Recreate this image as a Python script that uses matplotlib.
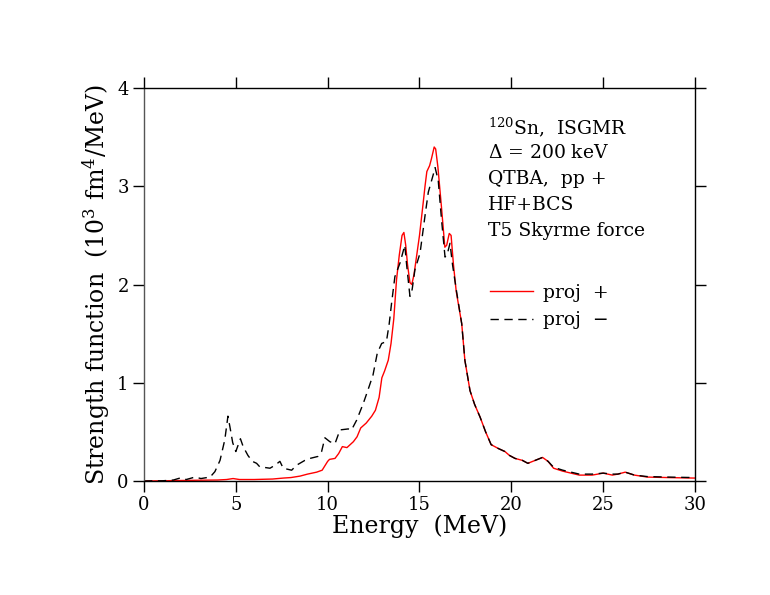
import matplotlib
matplotlib.use('Agg')
import matplotlib.pyplot as plt
import numpy as np

# strength function, 120Sn ISGMR, proj + (red)
e_plus = [0.0, 1.0, 2.0, 3.0, 4.0, 4.5, 4.85, 5.2, 6.0, 7.0, 7.6, 8.0, 8.5, 8.9,
          9.4, 9.7, 10.0, 10.1, 10.4, 10.6, 10.8, 11.05, 11.4, 11.6, 11.8, 12.1,
          12.4, 12.6, 12.8, 12.95, 13.1, 13.3, 13.45, 13.6, 13.75, 13.9, 14.05,
          14.15, 14.25, 14.35, 14.48, 14.58, 14.7, 14.85, 15.0, 15.2, 15.3, 15.4,
          15.55, 15.65, 15.8, 15.88, 16.0, 16.2, 16.38, 16.48, 16.62, 16.72, 16.85,
          17.0, 17.3, 17.47, 17.75, 18.0, 18.3, 18.6, 18.9, 19.3, 19.65, 19.9,
          20.2, 20.6, 20.9, 21.3, 21.7, 22.0, 22.3, 22.8, 23.7, 24.4, 25.0, 25.5,
          25.8, 26.2, 26.7, 27.4, 28.5, 29.9, 30.0]
s_plus = [0.0, 0.002, 0.005, 0.008, 0.01, 0.015, 0.025, 0.015, 0.015, 0.02, 0.03,
          0.035, 0.05, 0.07, 0.09, 0.11, 0.2, 0.22, 0.23, 0.28, 0.35, 0.34, 0.40,
          0.45, 0.54, 0.59, 0.66, 0.72, 0.85, 1.05, 1.12, 1.23, 1.4, 1.65, 2.05,
          2.3, 2.5, 2.53, 2.4, 2.2, 2.02, 2.0, 2.1, 2.3, 2.5, 2.83, 3.0, 3.15,
          3.21, 3.28, 3.40, 3.38, 3.2, 2.78, 2.38, 2.4, 2.52, 2.5, 2.2, 1.93, 1.6,
          1.23, 0.92, 0.78, 0.65, 0.5, 0.37, 0.33, 0.30, 0.26, 0.23, 0.21, 0.18,
          0.21, 0.24, 0.2, 0.13, 0.1, 0.06, 0.06, 0.08, 0.06, 0.07, 0.09, 0.06,
          0.04, 0.035, 0.03, 0.03]

# proj - (black dashed)
e_minus = [0.0, 1.0, 1.6, 1.96, 2.3, 2.78, 3.1, 3.6, 3.86, 4.14, 4.4, 4.57, 4.68,
           4.83, 5.0, 5.25, 5.4, 5.66, 5.9, 6.13, 6.3, 6.86, 7.13, 7.4, 7.58, 8.04,
           8.3, 8.76, 9.04, 9.47, 9.67, 9.85, 10.12, 10.4, 10.67, 11.12, 11.3,
           11.58, 11.94, 12.2, 12.47, 12.7, 12.94, 13.2, 13.35, 13.48, 13.66,
           13.94, 14.2, 14.3, 14.48, 14.6, 14.75, 15.03, 15.3, 15.48, 15.75, 15.85,
           16.02, 16.2, 16.39, 16.5, 16.66, 16.8, 17.0, 17.3, 17.47, 17.75, 18.0,
           18.3, 18.6, 18.9, 19.3, 19.65, 19.9, 20.2, 20.6, 20.9, 21.3, 21.7, 22.0,
           22.3, 22.8, 23.7, 24.4, 25.0, 25.5, 25.8, 26.2, 26.7, 27.4, 28.5, 29.9,
           30.0]
s_minus = [0.0, 0.002, 0.01, 0.03, 0.015, 0.04, 0.025, 0.04, 0.095, 0.21, 0.42,
           0.66, 0.55, 0.39, 0.30, 0.43, 0.35, 0.26, 0.2, 0.18, 0.145, 0.13, 0.16,
           0.2, 0.13, 0.11, 0.16, 0.21, 0.23, 0.25, 0.30, 0.44, 0.40, 0.38, 0.52,
           0.53, 0.52, 0.62, 0.79, 0.93, 1.08, 1.3, 1.4, 1.42, 1.6, 1.81, 2.08,
           2.22, 2.4, 2.2, 1.88, 1.95, 2.15, 2.32, 2.7, 2.94, 3.12, 3.19, 3.06,
           2.66, 2.28, 2.3, 2.42, 2.2, 1.95, 1.6, 1.23, 0.92, 0.78, 0.65, 0.5,
           0.37, 0.33, 0.30, 0.26, 0.23, 0.21, 0.18, 0.21, 0.24, 0.2, 0.14, 0.11,
           0.07, 0.07, 0.08, 0.07, 0.07, 0.09, 0.06, 0.045, 0.04, 0.035, 0.035]

info = [r'$^{120}$Sn,  ISGMR', r'$\Delta$ = 200 keV', 'QTBA,  pp +', 'HF+BCS',
        'T5 Skyrme force']

plt.rcParams['font.family'] = ['DejaVu Serif']
plt.rcParams['mathtext.fontset'] = 'dejavuserif'

fig = plt.figure(figsize=(7.7, 5.95), dpi=100)
ax = fig.add_axes([0.187, 0.1916, 0.7156, 0.6604])

ax.plot(e_plus, s_plus, color='red', lw=1.0, label='proj  +')
ax.plot(e_minus, s_minus, color='black', lw=1.0, dashes=(6, 4), label='proj  \u2212')

ax.set_xlim(0, 30)
ax.set_ylim(0, 4)
ax.set_xticks(np.arange(0, 31, 5))
ax.set_yticks(np.arange(0, 5, 1))
ax.tick_params(direction='out', length=8, width=1, labelsize=13,
               top=True, right=True, pad=3)
for sp in ax.spines.values():
    sp.set_linewidth(1.0)
ax.spines['left'].set_color('#555555')

ax.set_xlabel('Energy  (MeV)', fontsize=17, labelpad=0)
ax.set_ylabel(r'Strength function  (10$^3$ fm$^4$/MeV)', fontsize=17, labelpad=4)

for i, t in enumerate(info):
    ax.text(0.624, 0.9 - i * 0.066, t, transform=ax.transAxes, fontsize=13.5,
            va='center', ha='left')

ax.legend(loc='upper left', bbox_to_anchor=(0.598, 0.545), frameon=False,
          fontsize=13.5, handlelength=2.3, handletextpad=0.5, labelspacing=0.5)

fig.savefig('out.png', dpi=100)
